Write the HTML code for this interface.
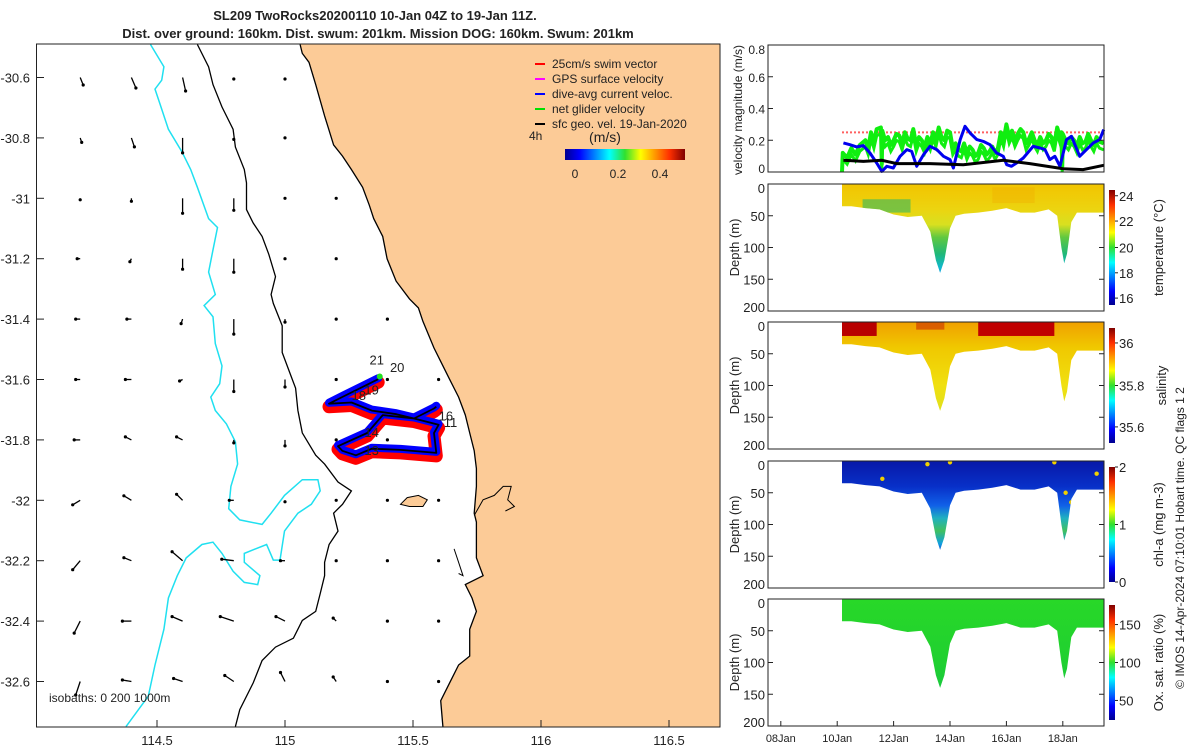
<!DOCTYPE html>
<html><head><meta charset="utf-8"><style>
body{margin:0;background:#fff;}
svg{display:block;font-family:"Liberation Sans",sans-serif;}
text{fill:#222;}
</style></head><body>
<svg id="s" width="1200" height="750" viewBox="0 0 1200 750" xmlns="http://www.w3.org/2000/svg">
<defs>
<linearGradient id="jet" x1="0" y1="0" x2="1" y2="0">
<stop offset="0" stop-color="#00008f"/><stop offset="0.12" stop-color="#0000ff"/><stop offset="0.37" stop-color="#00ffff"/><stop offset="0.5" stop-color="#30e030"/><stop offset="0.63" stop-color="#ffff00"/><stop offset="0.87" stop-color="#ff3000"/><stop offset="1" stop-color="#800000"/></linearGradient>
<linearGradient id="jetv" x1="0" y1="1" x2="0" y2="0">
<stop offset="0" stop-color="#00008f"/><stop offset="0.12" stop-color="#0000ff"/><stop offset="0.37" stop-color="#00ffff"/><stop offset="0.5" stop-color="#30e030"/><stop offset="0.63" stop-color="#ffff00"/><stop offset="0.87" stop-color="#ff3000"/><stop offset="1" stop-color="#800000"/></linearGradient>
<linearGradient id="gT" x1="0" y1="0" x2="0" y2="1">
<stop offset="0" stop-color="#f2c400"/><stop offset="0.2" stop-color="#ecd410"/><stop offset="0.32" stop-color="#d8e020"/><stop offset="0.42" stop-color="#60c840"/><stop offset="0.55" stop-color="#20b878"/><stop offset="0.66" stop-color="#10b8d0"/><stop offset="0.75" stop-color="#0080e8"/><stop offset="1" stop-color="#0060e0"/></linearGradient>
<linearGradient id="gS" x1="0" y1="0" x2="0" y2="1">
<stop offset="0" stop-color="#f0a000"/><stop offset="0.2" stop-color="#f0c800"/><stop offset="0.5" stop-color="#f0e010"/><stop offset="1" stop-color="#c8e030"/></linearGradient>
<linearGradient id="gC" x1="0" y1="0" x2="0" y2="1">
<stop offset="0" stop-color="#0818a8"/><stop offset="0.2" stop-color="#0830c8"/><stop offset="0.35" stop-color="#1060e8"/><stop offset="0.45" stop-color="#20b0c0"/><stop offset="0.55" stop-color="#40c060"/><stop offset="0.65" stop-color="#10a0e0"/><stop offset="0.72" stop-color="#1040d0"/><stop offset="1" stop-color="#0020b0"/></linearGradient>
<linearGradient id="gO" x1="0" y1="0" x2="0" y2="1">
<stop offset="0" stop-color="#28d828"/><stop offset="0.5" stop-color="#20d030"/><stop offset="1" stop-color="#10c050"/></linearGradient>
</defs>
<g id="map"></g>
<g id="right"></g>
</svg>
<script>
// ---------- data ----------
const lonTicks=[114.5,115,115.5,116,116.5];
const latTicks=[-30.6,-30.8,-31,-31.2,-31.4,-31.6,-31.8,-32,-32.2,-32.4,-32.6];
const gridLons=[114.2,114.4,114.6,114.8,115.0,115.2,115.4,115.6];
const gridLats=[-30.6,-30.8,-31,-31.2,-31.4,-31.6,-31.8,-32,-32.2,-32.4,-32.6];
const geoU=[[0.02,0.03,0.02,0,0],[0.01,0.02,0,0,0],[0,0,0,0,0,0],[-0.02,-0.01,0,0,0,0],[-0.03,-0.03,-0.01,0,0,0,0],[-0.03,-0.04,-0.02,0,0,0,0,0],[-0.04,-0.04,-0.04,0,0,0,0],[-0.05,-0.05,-0.04,-0.03,0,0,0,0],[-0.05,-0.05,-0.07,-0.08,-0.03,0,0,0],[-0.04,-0.06,-0.07,-0.09,-0.06,-0.02,0,0],[-0.03,-0.06,-0.06,-0.06,-0.03,-0.02,0,0]];
const geoV=[[-0.05,-0.07,-0.09,-0.01,-0.01],[-0.03,-0.06,-0.1,-0.01,0],[-0.01,-0.02,-0.1,-0.08,0,0],[0,-0.02,-0.07,-0.09,0,0],[0,0,-0.03,-0.1,-0.02,0,0],[0,0,-0.01,-0.08,-0.05,0,0,0],[0,0.02,0.02,-0.02,-0.04,0,0],[-0.03,0.03,0.04,0,-0.01,0,0,0],[-0.06,0.02,0.06,0.01,0,0,0,0],[-0.08,0,0.03,0.03,0.03,0.02,0,0],[-0.09,0.01,0.02,0.04,0.06,0.03,0,0]];
const trackLon=[115.364,115.224,115.172,115.260,115.339,115.435,115.504,115.600,115.582,115.591,115.451,115.339,115.277,115.224,115.207,115.321,115.382,115.504,115.582,115.591];
const trackLat=[-31.599,-31.658,-31.680,-31.676,-31.703,-31.715,-31.729,-31.750,-31.777,-31.843,-31.833,-31.829,-31.851,-31.836,-31.821,-31.777,-31.718,-31.729,-31.696,-31.690];
const dayLabels=[{lon:115.33,lat:-31.55,t:"21"},{lon:115.41,lat:-31.575,t:"20"},{lon:115.31,lat:-31.65,t:"19"},{lon:115.26,lat:-31.668,t:"18"},{lon:115.60,lat:-31.735,t:"16"},{lon:115.62,lat:-31.757,t:"11"},{lon:115.31,lat:-31.79,t:"14"},{lon:115.31,lat:-31.85,t:"13"}];
const timeTicks=[8,10,12,14,16,18];
const timeLabels=["08Jan","10Jan","12Jan","14Jan","16Jan","18Jan"];
const blueT=[10.22,10.45,10.69,10.93,11.16,11.40,11.58,11.76,11.99,12.23,12.47,12.64,12.82,13.06,13.29,13.53,13.77,14.00,14.12,14.36,14.53,14.71,14.95,15.18,15.42,15.65,15.89,16.01,16.18,16.36,16.60,16.95,17.19,17.37,17.54,17.72,17.90,18.13,18.31,18.60,18.84,19.08,19.31,19.45];
const blueV=[0.183,0.172,0.158,0.166,0.12,0.057,0.004,0.036,0.025,0.099,0.141,0.13,0.036,0.109,0.162,0.141,0.099,0.078,0.025,0.204,0.288,0.246,0.204,0.193,0.172,0.12,0.099,0.046,0.036,0.057,0.088,0.162,0.151,0.141,0.078,0.099,0.036,0.204,0.225,0.099,0.141,0.183,0.204,0.267];
const blackT=[10.22,10.93,11.58,12.11,13.29,14.47,15.89,16.83,18.01,18.72,19.45];
const blackV=[0.074,0.067,0.074,0.053,0.053,0.046,0.074,0.053,0.021,0.015,0.042];
const greenT=[10.17,10.2,10.35,10.5,10.65,10.8,11.0,11.1,11.2,11.3,11.4,11.55,11.58,11.6,11.7,11.8,11.9,12.0,12.1,12.2,12.3,12.4,12.5,12.6,12.7,12.8,12.9,13.0,13.1,13.2,13.3,13.4,13.5,13.6,13.7,13.8,13.9,14.0,14.1,14.2,14.3,14.4,14.5,14.6,14.7,14.8,14.9,15.0,15.1,15.2,15.3,15.4,15.5,15.6,15.7,15.8,15.9,16.0,16.1,16.2,16.3,16.4,16.5,16.6,16.7,16.8,16.9,17.0,17.1,17.2,17.3,17.4,17.5,17.6,17.7,17.8,17.9,17.95,17.98,18.0,18.1,18.2,18.3,18.4,18.5,18.6,18.7,18.8,18.9,19.0,19.1,19.2,19.3,19.45];
const greenV=[0.0,0.12,0.09,0.15,0.11,0.17,0.2,0.15,0.25,0.19,0.27,0.28,0.05,0.26,0.2,0.22,0.17,0.2,0.24,0.23,0.18,0.25,0.21,0.2,0.27,0.17,0.22,0.2,0.16,0.22,0.18,0.25,0.2,0.28,0.22,0.2,0.26,0.25,0.15,0.18,0.14,0.13,0.18,0.12,0.16,0.14,0.1,0.12,0.17,0.15,0.11,0.13,0.16,0.12,0.15,0.25,0.2,0.3,0.22,0.26,0.2,0.24,0.27,0.25,0.18,0.21,0.25,0.2,0.17,0.22,0.18,0.2,0.24,0.22,0.17,0.28,0.22,0.25,0.02,0.24,0.2,0.18,0.22,0.2,0.16,0.22,0.18,0.19,0.24,0.2,0.17,0.22,0.19,0.18];
const swimV=0.25;
const profT=[10.17,10.5,11,11.5,12,12.5,13,13.3,13.5,13.65,13.8,14.0,14.2,14.5,15,15.5,16,16.5,17,17.5,17.8,17.95,18.05,18.15,18.3,18.5,19,19.45];
const profD=[35,35,38,40,48,52,50,75,120,140,120,70,50,47,45,42,38,45,45,40,50,100,125,110,60,45,45,45];
const depthTicks=[0,50,100,150,200];
const velTicks=[0,0.2,0.4,0.6,0.8];

// ---------- helpers ----------
const NS="http://www.w3.org/2000/svg";
function el(tag,attrs,parent,txt){const e=document.createElementNS(NS,tag);for(const k in attrs)e.setAttribute(k,attrs[k]);if(txt!==undefined)e.textContent=txt;parent.appendChild(e);return e;}
const map=document.getElementById('map'),right=document.getElementById('right');
const X=lon=>285+(lon-115)*256, Y=lat=>77.5+(-30.6-lat)*302;
const zx=p=>30+p/2.24, zy=p=>40+p/2.24;
function zpts(a){let s=[];for(let i=0;i<a.length;i+=2)s.push(zx(a[i]).toFixed(1)+","+zy(a[i+1]).toFixed(1));return s.join(" ");}

// ---------- map ----------
let e;
e=el('text',{x:375,y:20,'text-anchor':'middle','font-size':13,'font-weight':'bold'},map,"SL209 TwoRocks20200110 10-Jan 04Z to 19-Jan 11Z.");

e=el('text',{x:378,y:38,'text-anchor':'middle','font-size':13,'font-weight':'bold'},map,"Dist. over ground: 160km. Dist. swum: 201km. Mission DOG: 160km. Swum: 201km");


const coast=[605,10,610,30,625,50,640,100,660,170,680,235,700,260,720,290,745,330,760,370,770,400,790,440,800,490,820,540,850,580,870,600,880,630,905,690,920,720,940,760,960,800,975,840,985,880,995,920,1000,960,1000,1000,995,1060,1000,1080,1000,1130,1000,1160,1015,1200,975,1220,990,1250,1000,1280,985,1320,985,1380,960,1400,940,1440,920,1480,925,1538];
e=el('polygon',{points:zpts(coast)+" 720,727 720,44",fill:"#fccb97",stroke:"none"},map);

e=el('polyline',{points:zpts(coast),fill:"none",stroke:"#000","stroke-width":1.3},map);

e=el('polygon',{points:zpts([830,1040,845,1025,870,1020,890,1030,880,1045,850,1045]),fill:"#fccb97",stroke:"#000","stroke-width":1},map);

e=el('polyline',{points:zpts([995,1065,1015,1030,1040,1020,1060,1000,1078,1000,1070,1030,1085,1045,1065,1055]),fill:"none",stroke:"#000","stroke-width":1},map);

e=el('polyline',{points:zpts([950,1140,960,1170,970,1200,960,1195]),fill:"none",stroke:"#000","stroke-width":1},map);

const iso200=[375,10,400,60,410,100,430,150,455,200,460,240,480,290,485,320,485,380,500,410,520,440,535,480,550,530,540,570,545,590,565,640,565,700,580,740,595,780,600,830,610,880,640,930,660,950,690,990,720,1010,700,1040,680,1060,690,1100,670,1130,660,1170,660,1200,650,1240,640,1280,610,1300,590,1340,550,1360,520,1390,500,1440,470,1500,460,1538];
e=el('polyline',{points:zpts(iso200),fill:"none",stroke:"#000","stroke-width":1.3},map);

const iso1000=[270,10,300,60,295,90,280,110,290,140,310,200,340,250,360,290,375,330,400,400,420,420,410,470,400,520,415,570,390,595,410,620,415,680,430,730,425,770,405,800,415,830,440,860,460,900,465,950,450,1000,445,1050,470,1075,520,1085,540,1060,570,1020,610,985,645,985,650,1010,630,1040,600,1060,570,1100,560,1165,545,1165,530,1130,505,1140,480,1150,480,1170,515,1200,510,1220,480,1215,455,1190,430,1150,410,1125,385,1130,350,1160,330,1200,310,1250,300,1320,280,1400,265,1470,215,1538];
e=el('polyline',{points:zpts(iso1000),fill:"none",stroke:"#20e0f0","stroke-width":1.5},map);


// geostrophic arrows
for(let r=0;r<gridLats.length;r++){for(let c=0;c<geoU[r].length;c++){
  const x0=X(gridLons[c]),y0=Y(gridLats[r]);const x1=x0+geoU[r][c]*150,y1=y0-geoV[r][c]*150;
  const a=el('line',{x1:x0,y1:y0,x2:x1,y2:y1,stroke:"#000","stroke-width":1.3},map);
  
  
  const d=el('circle',{cx:x1,cy:y1,r:1.6,fill:"#000"},map);
  
  
}}

// track
function trackPts(dx,dy){return trackLon.map((l,i)=>(X(l)+dx).toFixed(1)+","+(Y(trackLat[i])+dy).toFixed(1)).join(" ");}
e=el('polyline',{points:trackPts(0,3),fill:"none",stroke:"#ff0000","stroke-width":13,"stroke-linejoin":"round","stroke-linecap":"round"},map);

e=el('polyline',{points:trackPts(0,-1),fill:"none",stroke:"#0000ff","stroke-width":8,"stroke-linejoin":"round","stroke-linecap":"round"},map);

e=el('polyline',{points:trackPts(0,0),fill:"none",stroke:"#000","stroke-width":1.8,"stroke-linejoin":"round"},map);

e=el('circle',{cx:X(115.37),cy:Y(-31.6)-3,r:3,fill:"#20e020"},map);

dayLabels.forEach(d=>{const t=el('text',{x:X(d.lon),y:Y(d.lat),'font-size':13,fill:"#000"},map,d.t);
  
  });

// legend
const legItems=[["#ff0000","25cm/s swim vector"],["#ff00ff","GPS surface velocity"],["#0000ff","dive-avg current veloc."],["#00e000","net glider velocity"],["#000000","sfc geo. vel. 19-Jan-2020"]];
legItems.forEach((it,i)=>{const y=65+i*15;
  const l=el('line',{x1:535,y1:y-1,x2:545,y2:y-1,stroke:it[0],"stroke-width":2},map);
  
  
  const t=el('text',{x:552,y:y+3,'font-size':12},map,it[1]);
  
  });
e=el('text',{x:529,y:140,'font-size':12},map,"4h");
e=el('text',{x:605,y:142,'font-size':14,'text-anchor':'middle'},map,"(m/s)");
e=el('rect',{x:565,y:149,width:120,height:11,fill:"url(#jet)"},map);
[["0",575],["0.2",618],["0.4",660]].forEach(a=>{const t=el('text',{x:a[1],y:178,'font-size':12,'text-anchor':'middle'},map,a[0]);
  
  });
e=el('text',{x:49,y:702,'font-size':12},map,"isobaths: 0   200  1000m");

// map frame and ticks
e=el('rect',{x:36.5,y:44,width:683.5,height:683,fill:"none",stroke:"#222","stroke-width":1},map);

lonTicks.forEach(v=>{const x=X(v);el('line',{x1:x,y1:727,x2:x,y2:720,stroke:"#222"},map);
  const t=el('text',{x:x,y:745,'font-size':13,'text-anchor':'middle'},map,String(v));
  
  });
latTicks.forEach(v=>{const y=Y(v);el('line',{x1:37,y1:y,x2:44,y2:y,stroke:"#222"},map);
  const t=el('text',{x:30,y:y+5,'font-size':13,'text-anchor':'end'},map,String(v));
  
  });

// ---------- right panels ----------
const L=768,R=1104;
const TX=t=>842+(t-10.17)*28.2;
// velocity panel
const vTop=45,vBot=172;const VY=v=>vBot-(v/0.8)*(vBot-vTop);
function line(ts,vs,attrs,name){const p=ts.map((t,i)=>TX(t).toFixed(1)+","+VY(vs[i]).toFixed(1)).join(" ");const l=el('polyline',Object.assign({points:p,fill:"none"},attrs),right);return l;}
e=el('line',{x1:TX(10.17),y1:VY(swimV),x2:R,y2:VY(swimV),stroke:"#ff6060","stroke-width":2,"stroke-dasharray":"2 2"},right);

line(greenT,greenV,{stroke:"#10ee10","stroke-width":4,"stroke-linejoin":"round"},'net-velocity-series');
line(greenT,greenV.map(v=>Math.max(0,v-0.04)),{stroke:"#10ee10","stroke-width":3},'net-velocity-spread');
line(blueT,blueV,{stroke:"#0000ee","stroke-width":3,"stroke-linejoin":"round"},'current-velocity-series');
line(blackT,blackV,{stroke:"#000","stroke-width":3},'geo-velocity-series');
e=el('rect',{x:L,y:vTop,width:R-L,height:vBot-vTop,fill:"none",stroke:"#222"},right);

velTicks.forEach(v=>{const y=VY(v);el('line',{x1:L,y1:y,x2:L+5,y2:y,stroke:"#222"},right);el('line',{x1:R,y1:y,x2:R-5,y2:y,stroke:"#222"},right);
  const t=el('text',{x:L-3,y:y+(v===0.8?9:v===0?1:5),'font-size':12,'text-anchor':'end'},right,String(v));
  
  });
e=el('text',{x:0,y:0,'font-size':12,'text-anchor':'middle',transform:"translate(742,110) rotate(-90)"},right,"velocity magnitude (m/s)");


// sections
const panels=[
 {top:184,grad:"gT",name:"temperature",label:"temperature (°C)",cb:["24","22","20","18","16"],cbPos:[0.05,0.27,0.5,0.72,0.94]},
 {top:322,grad:"gS",name:"salinity",label:"salinity",cb:["36","35.8","35.6"],cbPos:[0.13,0.5,0.86]},
 {top:461,grad:"gC",name:"chlorophyll",label:"chl-a (mg m-3)",cb:["2","1","0"],cbPos:[0,0.5,1]},
 {top:599,grad:"gO",name:"oxygen",label:"Ox. sat. ratio (%)",cb:["150","100","50"],cbPos:[0.17,0.5,0.83]}];
const H=127;
panels.forEach((p,pi)=>{
  const DY=d=>p.top+d/200*H;
  const shape=[TX(profT[0]).toFixed(1)+","+DY(0)].concat(profT.map((t,i)=>TX(t).toFixed(1)+","+DY(profD[i]).toFixed(1))).concat([TX(profT[profT.length-1]).toFixed(1)+","+DY(0)]).join(" ");
  const cp=el('clipPath',{id:"cp"+pi},right);el('polygon',{points:shape},cp);
  const g=el('g',{'clip-path':"url(#cp"+pi+")"},right);
  
  el('rect',{x:L,y:p.top,width:R-L,height:H,fill:"url(#"+p.grad+")"},g);
  if(pi===0){el('rect',{x:TX(10.9),y:DY(24),width:TX(12.6)-TX(10.9),height:DY(45)-DY(24),fill:"#30b860",opacity:0.6},g);
    el('rect',{x:TX(15.5),y:DY(5),width:TX(17)-TX(15.5),height:DY(30)-DY(5),fill:"#f0a800",opacity:0.35},g);}
  if(pi===1){el('rect',{x:TX(10.17),y:DY(0),width:TX(11.4)-TX(10.17),height:DY(22)-DY(0),fill:"#b80000"},g);
    el('rect',{x:TX(15.0),y:DY(0),width:TX(17.7)-TX(15.0),height:DY(22)-DY(0),fill:"#c00000"},g);
    el('rect',{x:TX(12.8),y:DY(0),width:TX(13.8)-TX(12.8),height:DY(12)-DY(0),fill:"#d04000",opacity:0.7},g);}
  if(pi===2){[[11.6,28],[13.2,5],[14.0,2],[17.7,2],[18.1,50],[18.3,65],[19.2,20]].forEach(q=>{el('circle',{cx:TX(q[0]),cy:DY(q[1]),r:2.2,fill:"#f0d000"},g);});}
  e=el('rect',{x:L,y:p.top,width:R-L,height:H,fill:"none",stroke:"#222"},right);
  
  depthTicks.forEach(d=>{const y=DY(d);el('line',{x1:L,y1:y,x2:L+5,y2:y,stroke:"#222"},right);el('line',{x1:R,y1:y,x2:R-5,y2:y,stroke:"#222"},right);
    const t=el('text',{x:L-3,y:y+(d===0?9:d===200?1:5),'font-size':13,'text-anchor':'end'},right,String(d));
    
    });
  e=el('text',{x:0,y:0,'font-size':13,'text-anchor':'middle',transform:"translate(739,"+(p.top+H/2)+") rotate(-90)"},right,"Depth (m)");
  
  const cbT=p.top+6,cbH=H-12;
  e=el('rect',{x:1109,y:cbT,width:6,height:cbH,fill:"url(#jetv)"},right);
  
  p.cb.forEach((s,i)=>{const y=cbT+p.cbPos[i]*cbH;el('line',{x1:1115,y1:y,x2:1118,y2:y,stroke:"#222"},right);
    const t=el('text',{x:1119,y:y+5,'font-size':13},right,s);
    
    });
  e=el('text',{x:0,y:0,'font-size':13,'text-anchor':'middle',transform:"translate("+(pi===1?1166:1163)+","+(p.top+H/2)+") rotate(-90)"},right,p.label);
  
});
timeTicks.forEach((t,i)=>{const x=TX(t);el('line',{x1:x,y1:726,x2:x,y2:721,stroke:"#222"},right);
  const s=el('text',{x:x,y:742,'font-size':11,'text-anchor':'middle'},right,timeLabels[i]);
  
  });
e=el('text',{x:0,y:0,'font-size':12,'text-anchor':'middle',transform:"translate(1184,538) rotate(-90)"},right,"© IMOS 14-Apr-2024 07:10:01 Hobart time. QC flags 1  2");

</script>
</body></html>
